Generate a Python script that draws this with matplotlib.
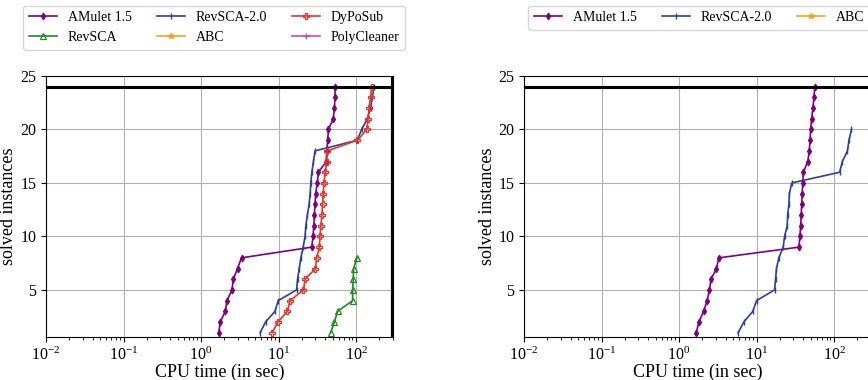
import matplotlib
matplotlib.use("Agg")
import matplotlib.pyplot as plt
import numpy as np

plt.rcParams['font.family'] = ['Liberation Serif', 'DejaVu Serif']
plt.rcParams['mathtext.fontset'] = 'stix'

# ---- data (CPU time in seconds for 1..n solved instances) ----
amulet_left = [1.69, 1.77, 2.06, 2.16, 2.51, 2.61, 2.96, 3.33, 26.8, 27.9, 28.5, 29.0,
               29.6, 30.2, 31.6, 32.8, 41.3, 41.8, 43.2, 44.0, 50.9, 52.6, 53.5, 54.0]
revsca2_left = [5.8, 6.8, 9.0, 9.9, 17.1, 17.6, 18.5, 19.4, 20.8, 22.0, 22.5, 23.6,
                24.8, 25.6, 26.1, 26.9, 28.2, 29.6, 104, 118, 140, 154, 162, 171]
dyposub_left = [8.3, 9.8, 13.0, 14.1, 21.0, 22.0, 30.0, 31.0, 33.7, 34.2, 35.2, 36.3,
                37.0, 37.8, 38.5, 40.2, 41.9, 42.8, 104, 138, 143, 147, 154, 159]
revsca_left = [47.0, 52.6, 57.9, 90.4, 90.4, 92.2, 93.0, 103]
abc_left = []
polycleaner_left = []

amulet_right = [1.67, 1.80, 2.08, 2.30, 2.47, 2.59, 3.04, 3.26, 35.3, 36.3, 37.1, 37.8,
                38.2, 38.9, 39.4, 40.2, 45.8, 48.0, 49.0, 49.9, 51.4, 53.5, 55.1, 56.4]
revsca2_right = [5.79, 6.86, 8.97, 10.0, 17.1, 17.6, 18.1, 19.4, 22.1, 23.0, 24.9, 25.2,
                 26.2, 26.5, 28.5, 118, 128, 149, 156, 168]
abc_right = []

total_instances = 24
timeout = 300

xticks = [1e-2, 1e-1, 1e0, 1e1, 1e2]
yticks = [5, 10, 15, 20, 25]

colors = {
    'AMulet 1.5': '#800080',
    'RevSCA-2.0': '#2c3f9e',
    'DyPoSub': '#e8352a',
    'RevSCA': '#1f8a1f',
    'ABC': '#f5a21e',
    'PolyCleaner': '#c04cc0',
}
markers = {
    'AMulet 1.5': dict(marker='d', markersize=3.5, markeredgewidth=0.8),
    'RevSCA-2.0': dict(marker='|', markersize=4, markeredgewidth=1.0),
    'DyPoSub': dict(marker='P', markersize=4.5, markerfacecolor='none', markeredgewidth=0.9),
    'RevSCA': dict(marker='^', markersize=4, markerfacecolor='none', markeredgewidth=0.9),
    'ABC': dict(marker='*', markersize=4),
    'PolyCleaner': dict(marker='+', markersize=5),
}

fig = plt.figure(figsize=(8.68, 3.80), dpi=100)
W, H = 868.0, 380.0
ax1 = fig.add_axes([46 / W, (H - 337) / H, 347 / W, 261 / H])
ax2 = fig.add_axes([524 / W, (H - 337) / H, 347 / W, 261 / H])


def curve(ax, name, xs):
    ys = np.arange(1, len(xs) + 1)
    return ax.plot(xs, ys, color=colors[name], lw=1.2, label=name, **markers[name])[0]


def style(ax):
    ax.set_xscale('log')
    ax.set_xlim(1e-2, timeout)
    ax.set_ylim(0.6, 25)
    ax.set_xticks(xticks)
    ax.set_yticks(yticks)
    ax.grid(True, which='major', color='#b0b0b0', lw=0.8)
    ax.set_axisbelow(True)
    ax.tick_params(labelsize=11.5)
    ax.set_xlabel('CPU time (in sec)', fontsize=13, labelpad=0)
    ax.set_ylabel('solved instances', fontsize=13, labelpad=2)
    ax.axhline(total_instances, color='black', lw=2.2)
    ax.axvline(timeout, color='black', lw=3)


# left panel
h_am = curve(ax1, 'AMulet 1.5', amulet_left)
h_r2 = curve(ax1, 'RevSCA-2.0', revsca2_left)
h_dy = curve(ax1, 'DyPoSub', dyposub_left)
h_rs = curve(ax1, 'RevSCA', revsca_left)
h_abc = curve(ax1, 'ABC', abc_left)
h_pc = curve(ax1, 'PolyCleaner', polycleaner_left)
style(ax1)
ax1.legend([h_am, h_rs, h_r2, h_abc, h_dy, h_pc],
           ['AMulet 1.5', 'RevSCA', 'RevSCA-2.0', 'ABC', 'DyPoSub', 'PolyCleaner'],
           ncol=3, loc='upper center', bbox_to_anchor=(0.485, 1.27), fontsize=10,
           handlelength=2.0, columnspacing=1.8, borderaxespad=0, frameon=True)

# right panel
g_am = curve(ax2, 'AMulet 1.5', amulet_right)
g_r2 = curve(ax2, 'RevSCA-2.0', revsca2_right)
g_abc = curve(ax2, 'ABC', abc_right)
style(ax2)
ax2.legend([g_am, g_r2, g_abc], ['AMulet 1.5', 'RevSCA-2.0', 'ABC'],
           ncol=3, loc='upper center', bbox_to_anchor=(0.505, 1.27), fontsize=10,
           handlelength=2.0, columnspacing=1.8, borderaxespad=0, frameon=True)

fig.savefig('out.png', dpi=100)
